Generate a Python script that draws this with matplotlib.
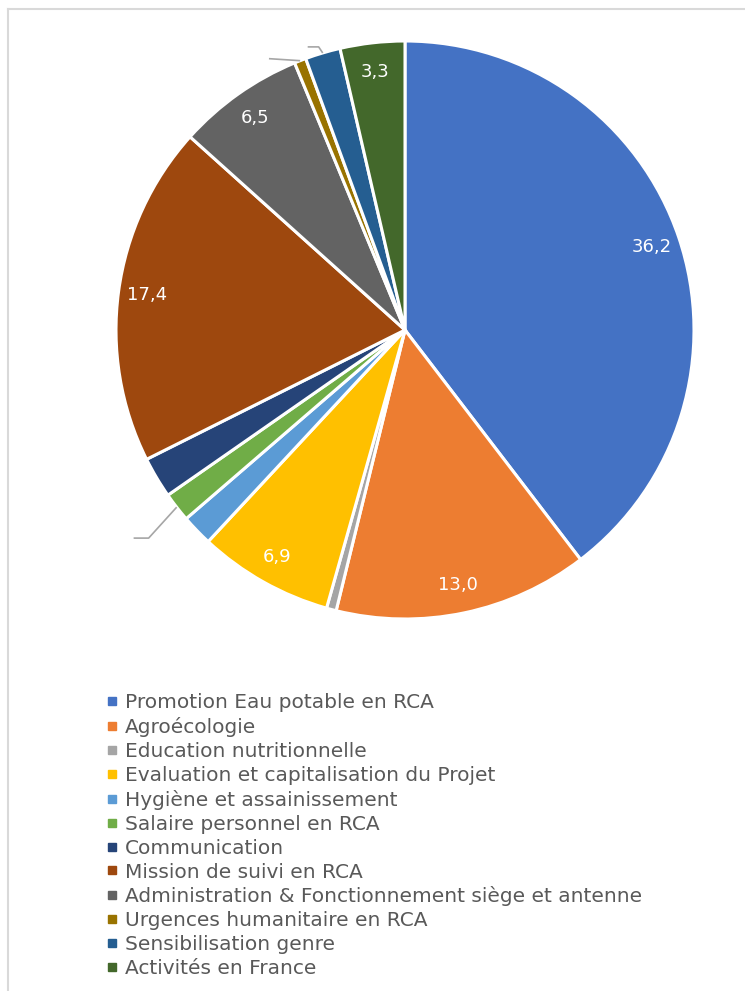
import matplotlib
matplotlib.use("Agg")
import matplotlib.pyplot as plt
import numpy as np
from matplotlib.lines import Line2D

plt.rcParams['font.family'] = ['DejaVu Sans']

categories = [
    "Promotion Eau potable en RCA",
    "Agroécologie",
    "Education nutritionnelle",
    "Evaluation et capitalisation du Projet",
    "Hygiène et assainissement",
    "Salaire personnel en RCA",
    "Communication",
    "Mission de suivi en RCA",
    "Administration & Fonctionnement siège et antenne",
    "Urgences humanitaire en RCA",
    "Sensibilisation genre",
    "Activités en France",
]
values = [36.2, 13.0, 0.5, 6.9, 1.6, 1.5, 2.1, 17.4, 6.5, 0.6, 1.8, 3.3]
colors = ["#4472C4", "#ED7D31", "#A5A5A5", "#FFC000", "#5B9BD5", "#70AD47",
          "#264478", "#9E480E", "#636363", "#997300", "#255E91", "#43682B"]

W, H = 745, 991
fig = plt.figure(figsize=(W / 100, H / 100), dpi=100)

cx, cy, r = 405, 330, 289
ax = fig.add_axes([(cx - r) / W, (H - cy - r) / H, 2 * r / W, 2 * r / H])
wedges, _ = ax.pie(values, colors=colors, startangle=90, counterclock=False,
                   radius=1.0, wedgeprops=dict(edgecolor="white", linewidth=2.2))
ax.set_xlim(-1, 1)
ax.set_ylim(-1, 1)
ax.set_aspect("equal")
ax.axis("off")

# data labels
for w, v in zip(wedges, values):
    mid = np.deg2rad((w.theta1 + w.theta2) / 2)
    if v >= 3:
        d = 0.9
        ax.text(d * np.cos(mid), d * np.sin(mid), f"{v:.1f}".replace(".", ","),
                ha="center", va="center", color="white", fontsize=13)

# leader lines for hidden small labels
lc = "#A6A6A6"
def leader(idx, offsets):
    w = wedges[idx]
    mid = np.deg2rad((w.theta1 + w.theta2) / 2)
    x0, y0 = 1.0 * np.cos(mid), 1.0 * np.sin(mid)
    xs, ys = [x0], [y0]
    for dx, dy in offsets:
        xs.append(xs[-1] + dx)
        ys.append(ys[-1] + dy)
    ax.plot(xs, ys, color=lc, lw=1.2, clip_on=False, solid_capstyle="butt")

leader(5, [(-0.097, -0.107), (-0.052, 0.0)])
leader(9, [(-0.108, 0.007)])
leader(10, [(-0.014, 0.021), (-0.038, 0.0)])

# legend
handles = [Line2D([0], [0], marker="s", linestyle="none", markersize=5.5,
                  markerfacecolor=c, markeredgecolor=c) for c in colors]
leg = fig.legend(handles, categories, loc="upper left",
                 bbox_to_anchor=(106 / W, 1 - 693 / H), frameon=False,
                 fontsize=14.5, labelcolor="#595959", handlelength=0.6,
                 handletextpad=0.35, labelspacing=0.245, borderaxespad=0,
                 borderpad=0)

# chart frame
fc = "#D9D9D9"
fig.add_artist(Line2D([8 / W, 1], [1 - 9 / H, 1 - 9 / H], color=fc, lw=1.5,
                      transform=fig.transFigure))
fig.add_artist(Line2D([8 / W, 8 / W], [0, 1 - 9 / H], color=fc, lw=1.5,
                      transform=fig.transFigure))

fig.savefig("out.png", dpi=100, facecolor="white")
